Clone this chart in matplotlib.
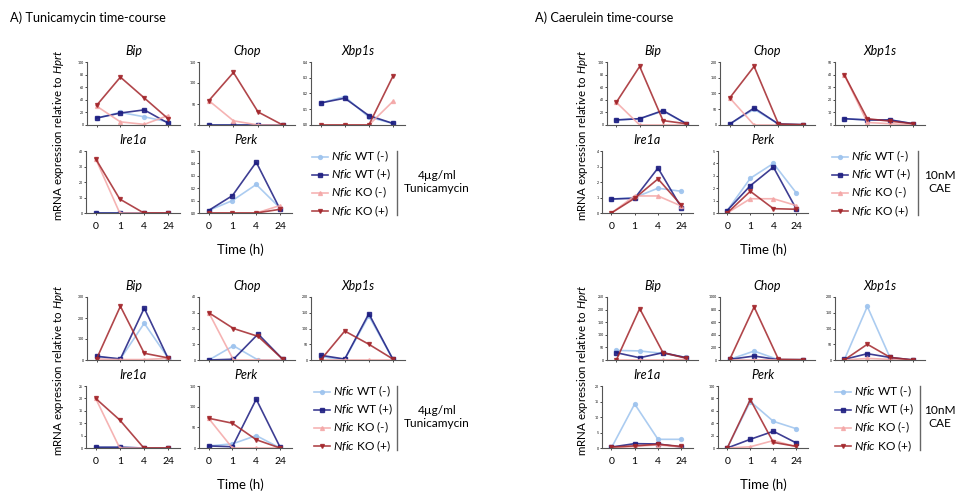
import matplotlib
matplotlib.use("Agg")
import matplotlib.pyplot as plt
from matplotlib.lines import Line2D
import numpy as np

plt.rcParams['font.family'] = ['Lato', 'DejaVu Sans']
plt.rcParams['mathtext.fontset'] = 'custom'
plt.rcParams['mathtext.rm'] = 'Lato'
plt.rcParams['mathtext.it'] = 'Lato:italic'

W, H = 959, 494

times = ['0', '1', '4', '24']
series = [r'$\it{Nfic}$ WT (-)', r'$\it{Nfic}$ WT (+)',
          r'$\it{Nfic}$ KO (-)', r'$\it{Nfic}$ KO (+)']
colors = ['#9dc3ee', '#1c1c80', '#f4a6a6', '#a3262b']
markers = ['o', 's', '^', 'v']

# each gene: rows = WT(-), WT(+), KO(-), KO(+) at 0, 1, 4, 24 h
# Tunicamycin, top block
tun1_bip = [[11, 20, 13, 5], [11, 19, 24, 3], [30, 5, 1, 15], [31, 76, 43, 10]]
tun1_chop = [[0, 0, 0, 0], [0, 0, 0, 0], [58, 10, 0, 0], [58, 125, 31, 0]]
tun1_xbp1s = [[0.14, 0.18, 0.05, 0.01], [0.14, 0.17, 0.06, 0.01], [0, 0, 0, 0.15], [0, 0, 0, 0.31]]
tun1_ire1a = [[0, 0, 0, 0], [0, 0, 0, 0], [35, 0, 0, 0], [35, 9, 0, 0]]
tun1_perk = [[0.02, 0.10, 0.23, 0.04], [0.02, 0.14, 0.41, 0.03], [0, 0, 0, 0.06], [0, 0, 0, 0.03]]

# Tunicamycin, bottom block
tun2_bip = [[15, 5, 175, 10], [18, 5, 247, 8], [5, 2, 2, 8], [5, 256, 32, 10]]
tun2_chop = [[0, 9, 0, 0], [0, 0.5, 16.5, 0.5], [30, 0, 0, 0], [30, 20, 15, 0.5]]
tun2_xbp1s = [[10, 2, 140, 2], [15, 3, 147, 2], [0, 0, 0, 0], [0, 92, 50, 3]]
tun2_ire1a = [[0.3, 0.3, 0, 0], [0.3, 0.3, 0, 0], [20, 0, 0, 0], [20, 11.3, 0, 0]]
tun2_perk = [[5, 10, 30, 0], [5, 3, 118, 2], [72, 0, 0, 0], [72, 60, 20, 0]]

# Caerulein, top block
cae1_bip = [[8, 10, 22, 2], [8, 10, 23, 2], [36, 0, 0, 0], [36, 93, 7, 2]]
cae1_chop = [[3, 50, 3, 1], [3, 54, 3, 1], [86, 0, 0, 0], [86, 186, 3, 1]]
cae1_xbp1s = [[5, 4, 4, 1], [5, 4, 4, 1], [40, 2, 1, 0], [40, 5, 3, 1]]
cae1_ire1a = [[0.9, 1.0, 1.6, 1.4], [0.9, 0.95, 2.9, 0.35], [0, 1.1, 1.1, 0.45], [0, 0.95, 2.2, 0.5]]
cae1_perk = [[0.2, 2.8, 4.0, 1.6], [0.2, 2.2, 3.7, 0.3], [0, 1.15, 1.15, 0.6], [0, 1.75, 0.35, 0.3]]

# Caerulein, bottom block
cae2_bip = [[38, 36, 26, 10], [29, 9, 29, 9], [0, 0, 0, 2], [0, 204, 29, 7]]
cae2_chop = [[10, 142, 5, 5], [10, 63, 5, 5], [0, 0, 5, 2], [10, 842, 10, 5]]
cae2_xbp1s = [[0, 170, 5, 0], [2, 20, 8, 0], [0, 5, 2, 0], [0, 50, 8, 0]]
cae2_ire1a = [[0, 14.2, 2.8, 2.8], [0.3, 1.4, 1.3, 0.3], [0, 0.5, 1.0, 0.3], [0.3, 0.7, 1.2, 0.5]]
cae2_perk = [[0, 75, 43, 31], [0, 14, 27, 8], [0, 2, 12, 2], [0, 78, 9, 2.6]]


def box(l, t, r, b):
    return [l / W, 1 - b / H, (r - l) / W, (b - t) / H]


def panel(fig, pos, vals, ymax, ystep, title, show_x):
    ax = fig.add_axes(box(*pos))
    x = np.arange(len(times))
    for i in range(4):
        ax.plot(x, vals[i], color=colors[i], marker=markers[i], ms=2.8,
                lw=1.2, alpha=0.85, label=series[i])
    ax.set_xlim(-0.4, 3.5)
    ax.set_ylim(0, ymax)
    yt = np.arange(0, ymax + ystep / 2, ystep)
    ax.set_yticks(yt)
    if ystep < 1:
        ax.set_yticklabels(['%.1f' % v for v in yt])
    else:
        ax.set_yticklabels(['%d' % v for v in yt])
    ax.set_xticks(x)
    ax.set_xticklabels(times if show_x else [])
    ax.tick_params(axis='y', labelsize=2.5, length=1.5, width=0.5, pad=1)
    ax.tick_params(axis='x', labelsize=7.5, length=1.5, width=0.5, pad=5)
    for s in ['top', 'right']:
        ax.spines[s].set_visible(False)
    for s in ['left', 'bottom']:
        ax.spines[s].set_color('#555555')
        ax.spines[s].set_linewidth(0.8)
    ax.set_title(title, fontsize=9, style='italic', pad=5)
    return ax


def block(fig, dy, xs, genes, ylims, ylab_x, time_x, leg_x, line_x, treat_x, treat):
    r1 = (62 + dy, 125 + dy)
    r2 = (151 + dy, 213 + dy)
    names = ['Bip', 'Chop', 'Xbp1s', 'Ire1a', 'Perk']
    rows = [r1, r1, r1, r2, r2]
    ax = None
    for k in range(5):
        l, r = xs[k]
        t, b = rows[k]
        ax = panel(fig, (l, t, r, b), genes[k], ylims[k][0], ylims[k][1],
                   names[k], k >= 3)
    fig.text(ylab_x / W, 1 - (135 + dy) / H, r'mRNA expression relative to $\it{Hprt}$',
             rotation=90, ha='center', va='center', fontsize=8.3)
    fig.text(time_x / W, 1 - (250 + dy) / H, 'Time (h)', ha='center',
             va='center', fontsize=9.5)
    h, lb = ax.get_legend_handles_labels()
    fig.legend(h, lb, loc='upper left', bbox_to_anchor=(leg_x / W, 1 - (149 + dy) / H),
               frameon=False, fontsize=8.6, handlelength=1.3, handletextpad=0.3,
               labelspacing=0.22, borderpad=0, borderaxespad=0)
    fig.add_artist(Line2D([line_x / W, line_x / W], [1 - (151 + dy) / H, 1 - (215 + dy) / H],
                          transform=fig.transFigure, color='#666666', lw=1))
    fig.text(treat_x / W, 1 - (182 + dy) / H, treat, ha='center', va='center',
             fontsize=8.6, linespacing=1.3)


fig = plt.figure(figsize=(W / 100, H / 100), dpi=100)

fig.text(10 / W, 1 - 18 / H, 'A) Tunicamycin time-course', fontsize=9.2, va='center')
fig.text(535 / W, 1 - 18 / H, 'A) Caerulein time-course', fontsize=9.2, va='center')

left_xs = [(87, 180), (199, 295), (311, 405), (86, 180), (199, 292)]
right_xs = [(607, 698), (720, 815), (835, 925), (602, 693), (718, 808)]

block(fig, 0, left_xs,
      [tun1_bip, tun1_chop, tun1_xbp1s, tun1_ire1a, tun1_perk],
      [(100, 20), (150, 50), (0.4, 0.1), (40, 10), (0.5, 0.1)],
      58, 240, 312, 397, 437, '4\u00b5g/ml\nTunicamycin')
block(fig, 235, left_xs,
      [tun2_bip, tun2_chop, tun2_xbp1s, tun2_ire1a, tun2_perk],
      [(300, 100), (40, 10), (200, 50), (25, 5), (150, 50)],
      58, 240, 314, 397, 437, '4\u00b5g/ml\nTunicamycin')
block(fig, 0, right_xs,
      [cae1_bip, cae1_chop, cae1_xbp1s, cae1_ire1a, cae1_perk],
      [(100, 20), (200, 50), (50, 10), (4, 1), (5, 1)],
      583, 763, 832, 918, 940, '10nM\nCAE')
block(fig, 235, right_xs,
      [cae2_bip, cae2_chop, cae2_xbp1s, cae2_ire1a, cae2_perk],
      [(250, 50), (1000, 200), (200, 50), (20, 5), (100, 20)],
      583, 763, 835, 920, 940, '10nM\nCAE')

fig.savefig('out.png', dpi=100)
